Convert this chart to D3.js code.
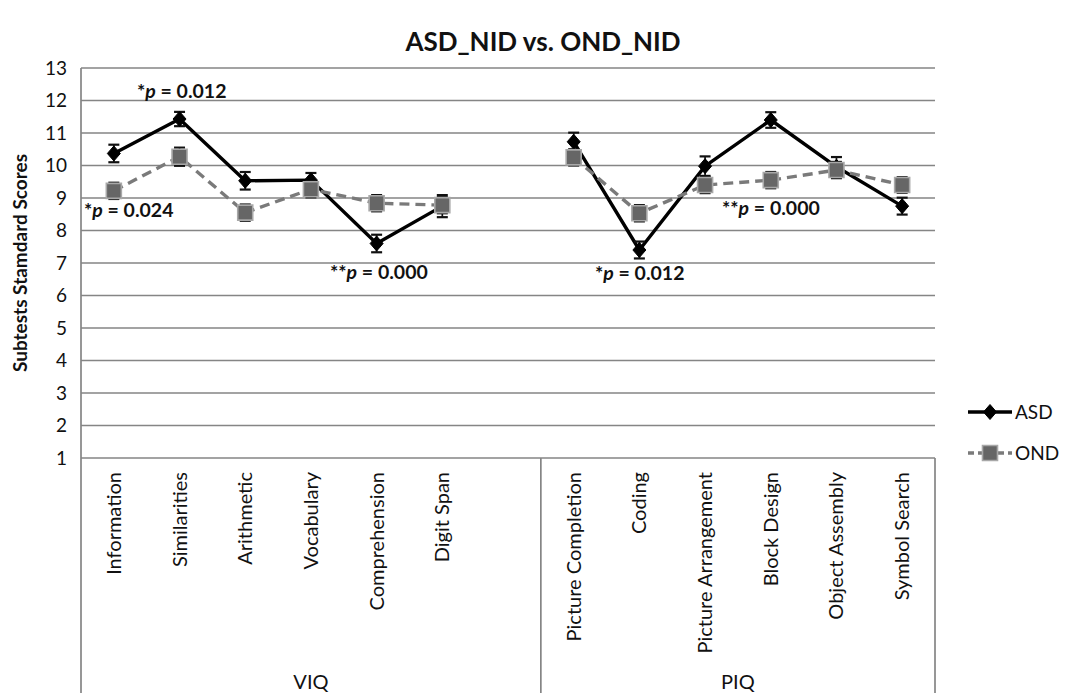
<!DOCTYPE html>
<html>
<head>
<meta charset="utf-8">
<script src="https://cdn.jsdelivr.net/npm/d3@7/dist/d3.min.js"></script>
<style>
  html, body { margin: 0; padding: 0; background: #fff; }
  svg { display: block; font-family: Lato, "Open Sans", sans-serif; }
</style>
</head>
<body>
<svg id="chart" width="1082" height="693"></svg>
<script>
// Subtest categories (blank slot separates the VIQ and PIQ groups)
const categories = ["Information", "Similarities", "Arithmetic", "Vocabulary", "Comprehension", "Digit Span", "",
  "Picture Completion", "Coding", "Picture Arrangement", "Block Design", "Object Assembly", "Symbol Search"];
const groups = [
  { name: "VIQ", from: 0, to: 6 },
  { name: "PIQ", from: 7, to: 12 }
];
// Mean standard scores and standard errors
const asdValues = [10.37, 11.43, 9.53, 9.55, 7.6, 8.75, null, 10.73, 7.4, 9.98, 11.4, 9.96, 8.75];
const asdErrors = [0.27, 0.22, 0.27, 0.22, 0.27, 0.34, null, 0.28, 0.26, 0.3, 0.24, 0.3, 0.26];
const ondValues = [9.22, 10.27, 8.55, 9.27, 8.84, 8.78, null, 10.25, 8.53, 9.4, 9.55, 9.86, 9.4];
const ondErrors = [0.25, 0.28, 0.25, 0.25, 0.25, 0.25, null, 0.25, 0.25, 0.25, 0.25, 0.25, 0.24];
const yTicks = [1, 2, 3, 4, 5, 6, 7, 8, 9, 10, 11, 12, 13];
// Significance notes
const noteStars = ["*", "*", "**", "*", "**"];
const noteText = [" = 0.012", " = 0.024", " = 0.000", " = 0.012", " = 0.000"];
const noteLevel = [12.1, 8.45, 6.55, 6.52, 8.52];

const svg = d3.select("#chart");
const plotLeft = 81, plotRight = 935, plotTop = 68, plotBottom = 458;

const x = d3.scaleBand().domain(d3.range(categories.length)).range([plotLeft, plotRight]).padding(0);
const cx = i => x(i) + x.bandwidth() / 2;
const y = d3.scaleLinear().domain([1, 13]).range([plotBottom, plotTop]);

const gridColor = "#858585";
const ink = "#111";

// Title
svg.append("text")
  .attr("x", 543).attr("y", 51)
  .attr("text-anchor", "middle")
  .attr("font-size", 26).attr("font-weight", "bold")
  .attr("fill", ink)
  .text("ASD_NID vs. OND_NID");

// Horizontal gridlines
svg.append("g").selectAll("line").data(yTicks).join("line")
  .attr("x1", plotLeft).attr("x2", plotRight)
  .attr("y1", d => y(d)).attr("y2", d => y(d))
  .attr("stroke", gridColor).attr("stroke-width", 1.7);

// Value axis line
svg.append("line")
  .attr("x1", plotLeft).attr("x2", plotLeft).attr("y1", plotTop).attr("y2", plotBottom)
  .attr("stroke", gridColor).attr("stroke-width", 1.7);

// Value axis labels
const yAxis = d3.axisLeft(y).tickValues(yTicks).tickSize(0).tickPadding(14).tickFormat(d3.format("d"));
const yg = svg.append("g").attr("transform", `translate(${plotLeft},0)`).call(yAxis);
yg.select(".domain").remove();
yg.selectAll("text").attr("font-size", 19).attr("fill", ink).attr("font-family", "Lato, sans-serif");

// Value axis title
svg.append("text")
  .attr("transform", `translate(27,${(plotTop + plotBottom) / 2}) rotate(-90)`)
  .attr("text-anchor", "middle")
  .attr("font-size", 19).attr("font-weight", "bold").attr("fill", ink)
  .text("Subtests Stamdard Scores");

// Category axis: group separators extending down
const sepX = [plotLeft, x(groups[1].from), plotRight];
svg.append("g").selectAll("line").data(sepX).join("line")
  .attr("x1", d => d).attr("x2", d => d)
  .attr("y1", plotBottom).attr("y2", 700)
  .attr("stroke", gridColor).attr("stroke-width", 1.7);

// Category labels (rotated)
svg.append("g").selectAll("text").data(categories).join("text")
  .attr("transform", (d, i) => `translate(${cx(i) + 7},${plotBottom + 14}) rotate(-90)`)
  .attr("text-anchor", "end")
  .attr("font-size", 20).attr("fill", ink)
  .text(d => d);

// Group labels
svg.append("g").selectAll("text").data(groups).join("text")
  .attr("x", g => (x(g.from) + x(g.to) + x.bandwidth()) / 2)
  .attr("y", 689)
  .attr("text-anchor", "middle")
  .attr("font-size", 20).attr("fill", ink)
  .text(g => g.name);

// Series drawing
function drawSeries(values, errors, opts) {
  const pts = values.map((v, i) => ({ i, v, e: errors[i] })).filter(d => d.v != null);
  const line = d3.line().defined(d => d.v != null).x(d => cx(d.i)).y(d => y(d.v));
  const full = values.map((v, i) => ({ i, v }));
  const g = svg.append("g");
  g.append("path").datum(full)
    .attr("d", line)
    .attr("fill", "none")
    .attr("stroke", opts.stroke)
    .attr("stroke-width", 3.4)
    .attr("stroke-dasharray", opts.dash || null)
    .attr("stroke-linejoin", "round");
  // error bars
  const eb = g.append("g").selectAll("g").data(pts).join("g");
  eb.append("line")
    .attr("x1", d => cx(d.i)).attr("x2", d => cx(d.i))
    .attr("y1", d => y(d.v + d.e)).attr("y2", d => y(d.v - d.e))
    .attr("stroke", ink).attr("stroke-width", 1.7);
  [1, -1].forEach(s => {
    eb.append("line")
      .attr("x1", d => cx(d.i) - 5.5).attr("x2", d => cx(d.i) + 5.5)
      .attr("y1", d => y(d.v + s * d.e)).attr("y2", d => y(d.v + s * d.e))
      .attr("stroke", ink).attr("stroke-width", 2.2);
  });
  // markers
  g.append("g").selectAll("path").data(pts).join("path")
    .attr("transform", d => `translate(${cx(d.i)},${y(d.v)})`)
    .attr("d", opts.symbol)
    .attr("fill", opts.fill)
    .attr("stroke", opts.markerStroke)
    .attr("stroke-width", opts.markerStrokeWidth);
}

const diamond = "M0,-7.5L6.5,0L0,7.5L-6.5,0Z";
const square = "M-7.5,-7.5H7.5V7.5H-7.5Z";

drawSeries(asdValues, asdErrors, { stroke: "#000", symbol: diamond, fill: "#000", markerStroke: "#000", markerStrokeWidth: 1 });
drawSeries(ondValues, ondErrors, { stroke: "#7a7a7a", dash: "10,6", symbol: square, fill: "#666", markerStroke: "#a8a8a8", markerStrokeWidth: 1.6 });

// Significance annotations
const noteX = [137, 84, 330, 595, 722];
noteStars.forEach((s, k) => {
  const t = svg.append("text")
    .attr("x", noteX[k])
    .attr("y", y(noteLevel[k]) + 1)
    .attr("font-size", 19.5).attr("font-weight", "bold").attr("fill", ink);
  t.append("tspan").text(s);
  t.append("tspan").attr("font-style", "italic").text("p");
  t.append("tspan").text(noteText[k]);
});

// Legend
const legend = [
  { name: "ASD", stroke: "#000", dash: null, symbol: diamond, fill: "#000", ms: "#000", msw: 1, yy: 412 },
  { name: "OND", stroke: "#7a7a7a", dash: "6,4", symbol: square, fill: "#666", ms: "#a8a8a8", msw: 1.6, yy: 453 }
];
const lg = svg.append("g").selectAll("g").data(legend).join("g")
  .attr("transform", d => `translate(0,${d.yy})`);
lg.append("line")
  .attr("x1", 968).attr("x2", 1012).attr("y1", 0).attr("y2", 0)
  .attr("stroke", d => d.stroke).attr("stroke-width", 3.4)
  .attr("stroke-dasharray", d => d.dash);
lg.append("path")
  .attr("transform", "translate(990,0)")
  .attr("d", d => d.symbol)
  .attr("fill", d => d.fill).attr("stroke", d => d.ms).attr("stroke-width", d => d.msw);
lg.append("text")
  .attr("x", 1015).attr("y", 7)
  .attr("font-size", 19).attr("fill", ink)
  .text(d => d.name);
</script>
</body>
</html>
